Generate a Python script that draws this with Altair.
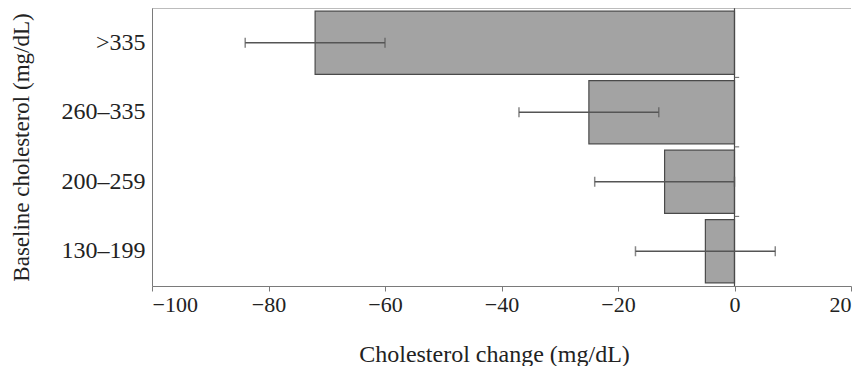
import altair as alt
import pandas as pd

categories = [">335", "260–335", "200–259", "130–199"]
changes = [-72, -25, -12, -5]
err_low = [-84, -37, -24, -17]
err_high = [-60, -13, 0, 7]
x_ticks = [-100, -80, -60, -40, -20, 0, 20]

df = pd.DataFrame({"cat": categories, "change": changes, "lo": err_low, "hi": err_high})
bounds = pd.DataFrame({"cat": categories[:-1]})
one = pd.DataFrame({"a": [0]})

W, H = 699, 278
FONT = "Liberation Serif"
TXT = "#222222"
AX = "#7a7a7a"

yscale = alt.Scale(domain=categories, paddingInner=0.09, paddingOuter=0.045)
xscale = alt.Scale(domain=[-100, 20], nice=False)

ycat = alt.Y(
    "cat:N", scale=yscale, sort=categories, title="Baseline cholesterol (mg/dL)",
    axis=alt.Axis(ticks=False, labelPadding=7, labelFontSize=24, titleFontSize=23,
                  titlePadding=28, domainColor=AX),
)

bars = alt.Chart(df).mark_bar(color="#a3a3a3", stroke="#4a4a4a", strokeWidth=1.2).encode(
    x=alt.X("change:Q", scale=xscale, title="Cholesterol change (mg/dL)",
            axis=alt.Axis(values=x_ticks, tickSize=5, labelPadding=3, titlePadding=27,
                          titleFontSize=24, titleX=342,
                          grid=False, domainColor=AX, tickColor=AX, format="d")),
    x2=alt.datum(0),
    y=ycat,
)

zero_line = alt.Chart(one).mark_rule(color="#4a4a4a", strokeWidth=1.2).encode(
    x=alt.datum(0), y=alt.value(0), y2=alt.value(H)
)

bound_ticks = alt.Chart(bounds).mark_rule(color="#666666", strokeWidth=1, yOffset=3).encode(
    x=alt.datum(0), x2=alt.datum(0.8),
    y=alt.Y("cat:N", scale=yscale, sort=categories, bandPosition=1),
)

err_line = alt.Chart(df).mark_rule(color="#555555", strokeWidth=1.3).encode(
    x="lo:Q", x2="hi:Q", y=alt.Y("cat:N", scale=yscale, sort=categories)
)
cap_lo = alt.Chart(df).mark_tick(color="#555555", thickness=1.5, size=10).encode(
    x="lo:Q", y=alt.Y("cat:N", scale=yscale, sort=categories)
)
cap_hi = alt.Chart(df).mark_tick(color="#555555", thickness=1.5, size=10).encode(
    x="hi:Q", y=alt.Y("cat:N", scale=yscale, sort=categories)
)

top_line = alt.Chart(one).mark_rule(color=AX, strokeWidth=1).encode(
    x=alt.value(0), x2=alt.value(W), y=alt.value(0)
)

chart = alt.layer(bars, zero_line, bound_ticks, err_line, cap_lo, cap_hi, top_line).properties(
    width=W, height=H,
    autosize=alt.AutoSizeParams(type="none"),
    padding={"left": 144, "top": 0, "right": 8, "bottom": 80},
).configure_view(stroke=None).configure_axis(
    labelFont=FONT, labelFontSize=22, labelColor=TXT,
    titleFont=FONT, titleFontSize=22, titleFontWeight="normal", titleColor=TXT,
    grid=False,
)

chart.save("out.html", embed_options={"renderer": "svg", "actions": False})
